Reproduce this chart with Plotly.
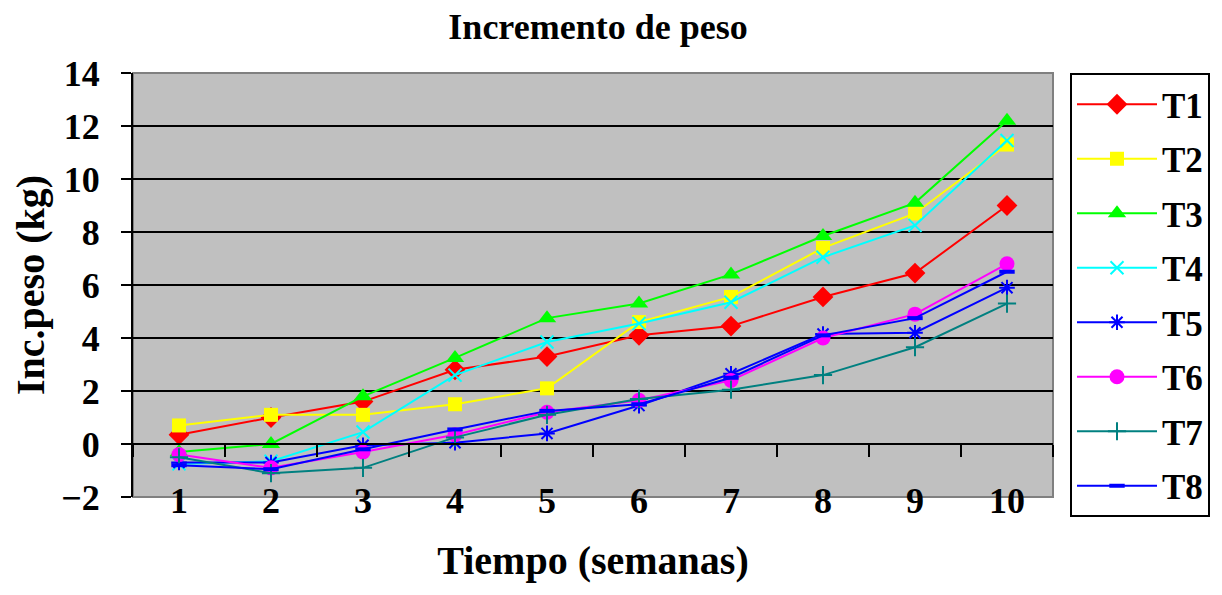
import plotly.graph_objects as go

weeks = [1, 2, 3, 4, 5, 6, 7, 8, 9, 10]
T1 = [0.35, 1.0, 1.6, 2.8, 3.3, 4.1, 4.45, 5.55, 6.45, 9.0]
T2 = [0.7, 1.1, 1.1, 1.5, 2.1, 4.6, 5.55, 7.4, 8.7, 11.3]
T3 = [-0.3, 0.0, 1.8, 3.25, 4.75, 5.3, 6.4, 7.85, 9.1, 12.2]
T4 = [-0.75, -0.65, 0.45, 2.6, 3.85, 4.55, 5.35, 7.05, 8.25, 11.45]
T5 = [-0.7, -0.7, -0.05, 0.05, 0.4, 1.45, 2.65, 4.15, 4.2, 5.9]
T6 = [-0.4, -0.9, -0.3, 0.35, 1.2, 1.65, 2.4, 4.0, 4.9, 6.8]
T7 = [-0.5, -1.1, -0.9, 0.25, 1.1, 1.7, 2.05, 2.6, 3.65, 5.3]
T8 = [-0.8, -0.95, -0.2, 0.55, 1.25, 1.5, 2.5, 4.1, 4.75, 6.5]

names = ["T1", "T2", "T3", "T4", "T5", "T6", "T7", "T8"]
series = [T1, T2, T3, T4, T5, T6, T7, T8]
colors = ["#FF0000", "#FFFF00", "#00FF00", "#00FFFF", "#0000FF", "#FF00FF", "#008080", "#0000FF"]
symbols = ["diamond", "square", "triangle-up", "x-thin", "asterisk", "circle", "cross-thin", "line-ew"]
sizes = [16, 14, 16, 13, 13, 15, 13, 11]
mlw = [0, 0, 0, 2, 2, 0, 2, 4]

FONT = "Liberation Serif"

fig = go.Figure()
for i, (n, s) in enumerate(zip(names, series)):
    fig.add_trace(go.Scatter(
        x=weeks, y=s, name=f"<b>{n}</b>", mode="lines+markers",
        line=dict(color=colors[i], width=2),
        marker=dict(symbol=symbols[i], size=sizes[i], color=colors[i],
                    line=dict(color=colors[i], width=mlw[i])),
        legendgroup=n,
    ))

# invisible trace to activate the zero-crossing category axis
fig.add_trace(go.Scatter(x=[1], y=[None], xaxis="x2", showlegend=False, hoverinfo="skip"))

boundaries = [w - 0.5 for w in weeks] + [weeks[-1] + 0.5]

fig.update_layout(
    width=1222, height=595,
    margin=dict(l=125, r=177, t=65, b=106, autoexpand=False),
    paper_bgcolor="white", plot_bgcolor="#C0C0C0",
    font=dict(family=FONT, color="black"),
    title=dict(text="<b>Incremento de peso</b>", font=dict(family=FONT, size=36, color="black"),
               x=590 / 1222, xref="container", xanchor="center",
               y=1 - 6 / 595, yref="container", yanchor="top", pad=dict(t=0, b=0)),
    xaxis=dict(range=[0.5, 10.5], tickvals=weeks, ticktext=[f"<b>{w}</b>" for w in weeks],
               showgrid=False, zeroline=False, ticks="", showline=False, automargin=False,
               tickfont=dict(family=FONT, size=36, color="black"),
               ticklabelstandoff=-21,
               title=dict(text="<b>Tiempo (semanas)</b>", font=dict(family=FONT, size=40, color="black"),
                          standoff=25)),
    xaxis2=dict(range=[0.5, 10.5], overlaying="x", anchor="free", position=0.125,
                tickvals=boundaries, ticks="outside", ticklen=12, tickwidth=2, tickcolor="black",
                showticklabels=False, showline=True, linecolor="black", linewidth=2,
                showgrid=False, zeroline=False, automargin=False),
    yaxis=dict(range=[-2, 14], dtick=2, tick0=-2, showgrid=True, gridcolor="black", gridwidth=2,
               zeroline=False, ticks="outside", ticklen=10, tickwidth=2, tickcolor="black",
               showline=True, linecolor="black", linewidth=2, automargin=False,
               tickfont=dict(family=FONT, size=36, color="black"),
               ticklabelstandoff=14,
               tickprefix="<b>", ticksuffix="</b>",
               title=dict(text="<b>Inc.peso (kg)</b>", font=dict(family=FONT, size=40, color="black"),
                          standoff=26)),
    legend=dict(x=(1062 - 125) / 920, y=1.0, xanchor="left", yanchor="top",
                bordercolor="black", borderwidth=2, bgcolor="white",
                font=dict(family=FONT, size=35, color="black"),
                traceorder="grouped", tracegroupgap=6, itemwidth=80, maxheight=560),
    shapes=[dict(type="rect", xref="paper", yref="paper", x0=0, x1=1, y0=0, y1=1,
                 line=dict(color="#808080", width=2), layer="below")],
)

fig.write_html("out.html")
